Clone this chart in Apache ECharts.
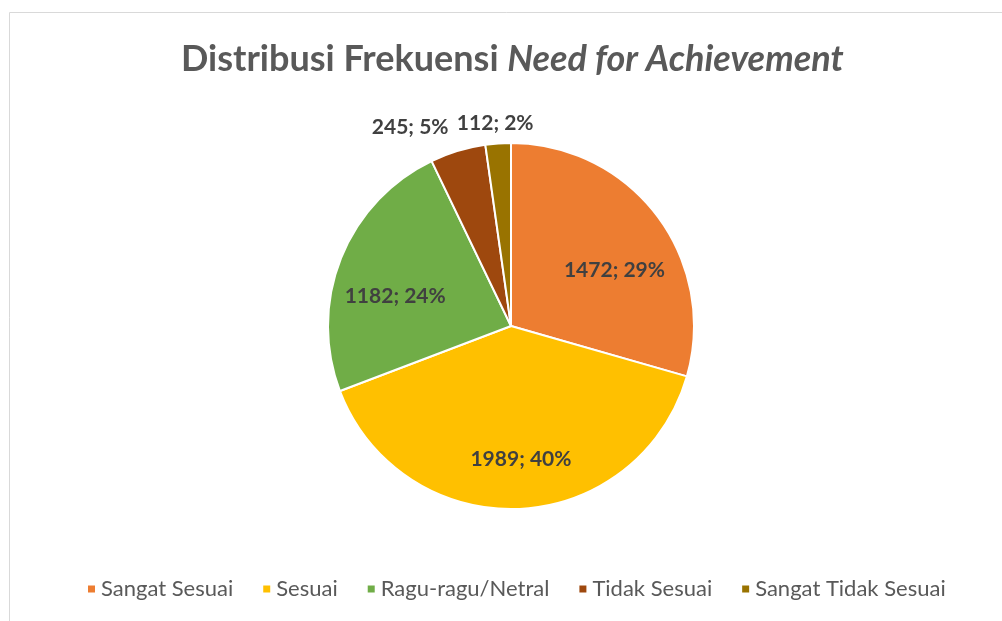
<!DOCTYPE html>
<html>
<head>
<meta charset="utf-8">
<script src="https://cdn.jsdelivr.net/npm/echarts@6/dist/echarts.min.js"></script>
<style>
  html, body { margin: 0; padding: 0; background: #fff; }
  #chart { width: 1002px; height: 621px; }
</style>
</head>
<body>
<div id="chart"></div>
<script>
// data
const categories = ['Sangat Sesuai', 'Sesuai', 'Ragu-ragu/Netral', 'Tidak Sesuai', 'Sangat Tidak Sesuai'];
const counts = [1472, 1989, 1182, 245, 112];
const colors = ['#ED7D31', '#FFC000', '#70AD47', '#9E480E', '#997300'];
// small slices get their label outside, like in excel
const outsideLabel = [false, false, false, true, true];
// nudge labels to where excel puts them (px)
const labelShift = [[28, 1], [6, 39], [-28, 5], [-2, -16], [41, -12]];

const FONT = 'Lato, "Open Sans", sans-serif';

const chart = echarts.init(document.getElementById('chart'));

const option = {
  animation: false,
  color: colors,
  graphic: [{
    type: 'rect',
    shape: { x: 9.5, y: 12.5, width: 1200, height: 800 },
    style: { fill: 'none', stroke: '#d9d9d9', lineWidth: 1 },
    silent: true
  }],
  title: {
    left: 176,
    top: 36,
    text: '{a|Distribusi Frekuensi }{b|Need for Achievement}',
    textStyle: {
      rich: {
        a: { fontFamily: FONT, fontSize: 36, fontWeight: 'bold', color: '#595959' },
        b: { fontFamily: FONT, fontSize: 36, fontWeight: 'bold', fontStyle: 'italic', color: '#595959' }
      }
    }
  },
  legend: {
    bottom: 16,
    left: 81,
    icon: 'rect',
    itemWidth: 9,
    itemHeight: 9,
    itemGap: 28,
    textStyle: { fontFamily: FONT, fontSize: 22, color: '#595959' },
    data: categories
  },
  series: [{
    type: 'pie',
    center: [511, 326],
    radius: 183,
    startAngle: 90,
    clockwise: true,
    avoidLabelOverlap: false,
    itemStyle: { borderColor: '#fff', borderWidth: 2 },
    label: {
      show: true,
      position: 'inside',
      formatter: p => p.value + '; ' + Math.round(p.percent) + '%',
      fontFamily: FONT,
      fontSize: 21,
      fontWeight: 'bold',
      color: '#404040'
    },
    labelLine: { show: false, length: 8, length2: 0 },
    labelLayout: p => ({
      hideOverlap: false,
      dx: labelShift[p.dataIndex][0],
      dy: labelShift[p.dataIndex][1]
    }),
    data: categories.map((name, i) => ({
      name: name,
      value: counts[i],
      label: outsideLabel[i] ? { position: 'outside' } : undefined
    }))
  }]
};

chart.setOption(option);
</script>
</body>
</html>
